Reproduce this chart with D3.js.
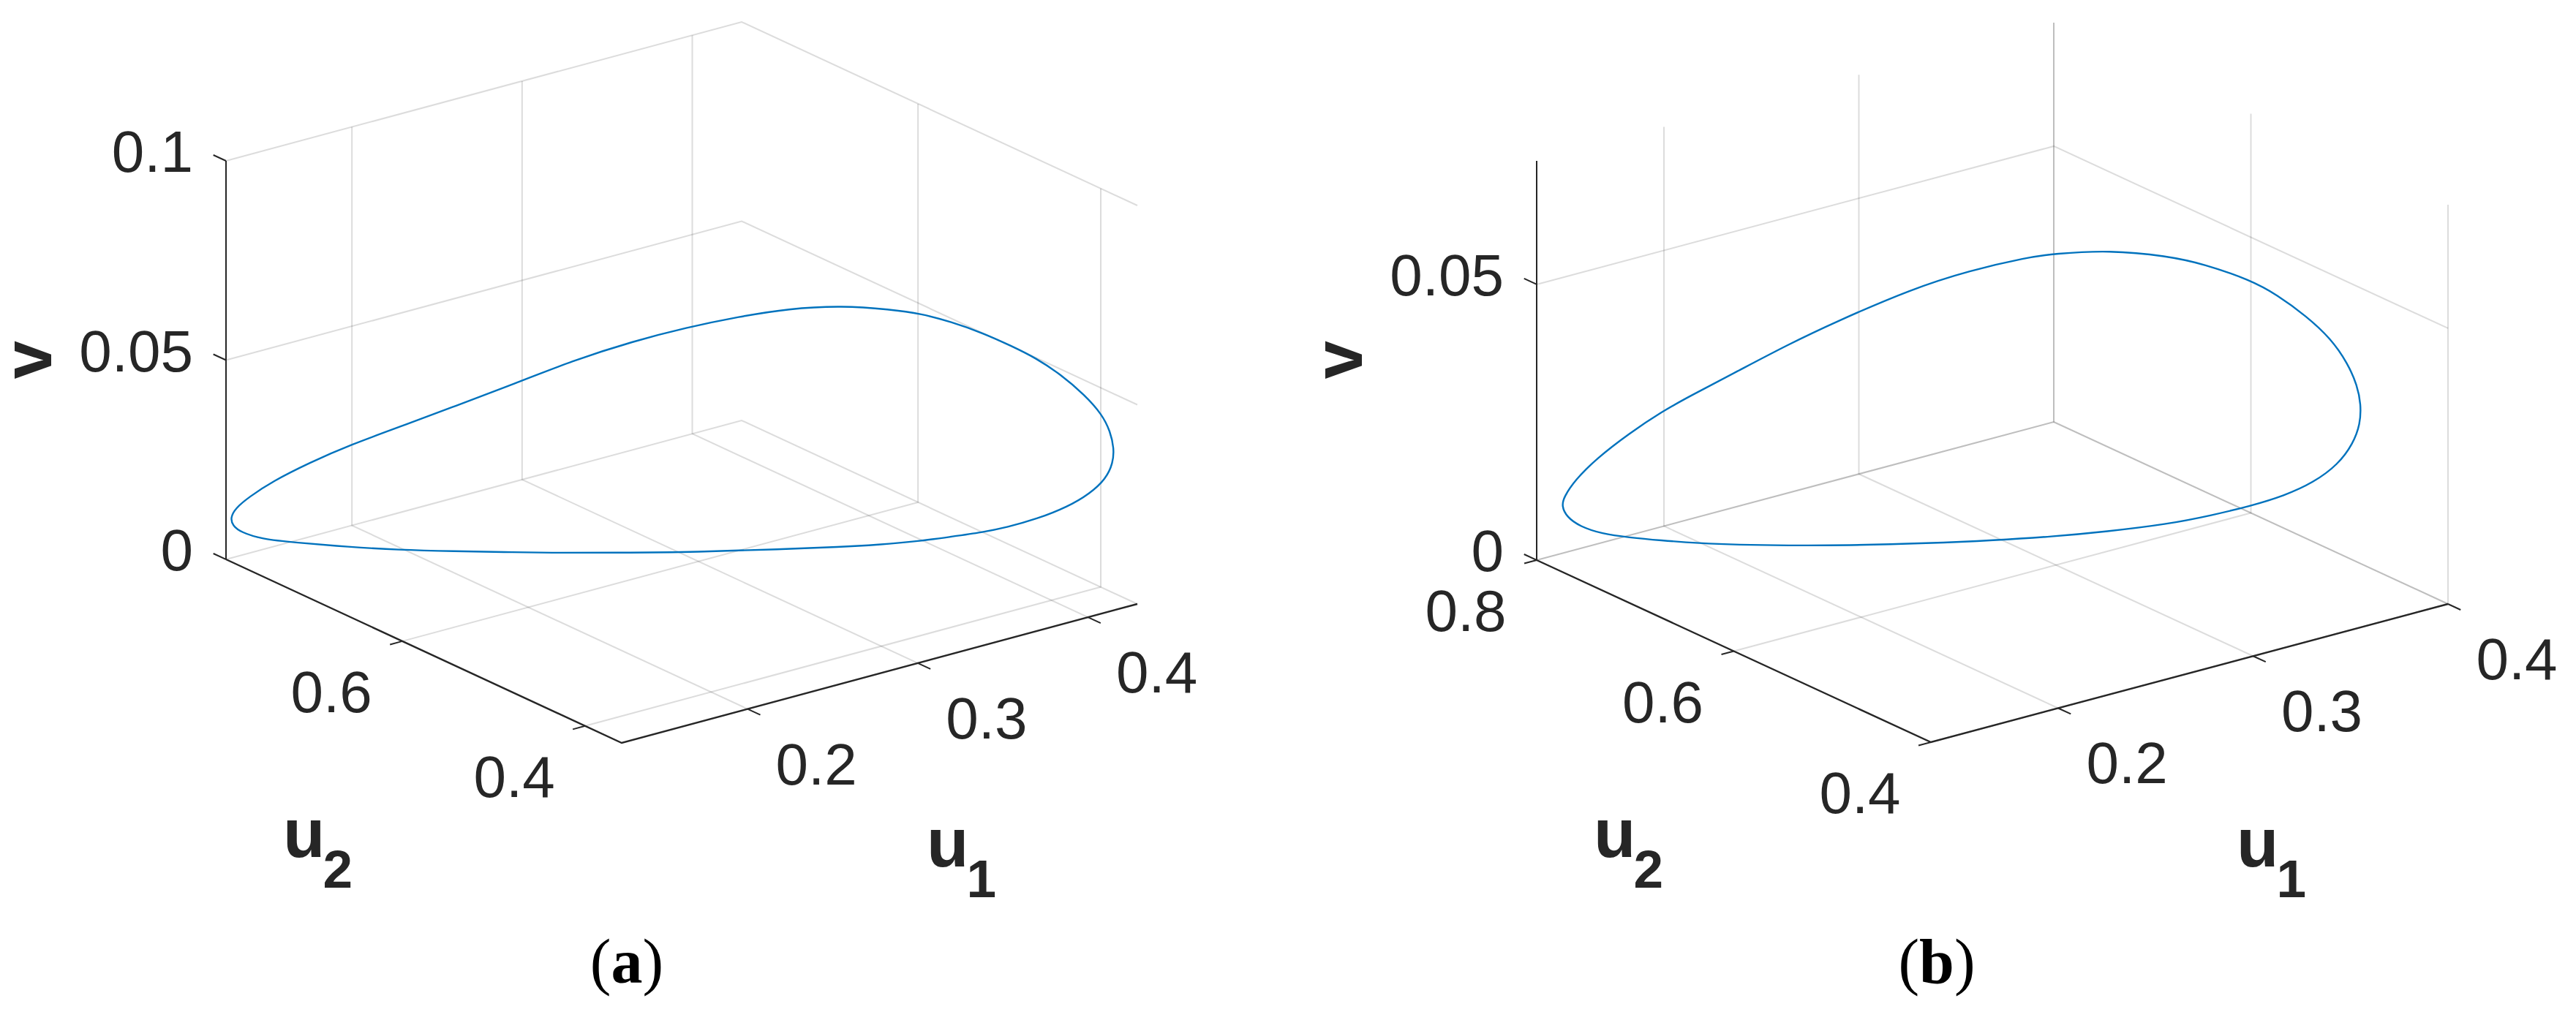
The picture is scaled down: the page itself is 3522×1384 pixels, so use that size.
<!DOCTYPE html><html><head><meta charset="utf-8"><script src="https://d3js.org/d3.v7.min.js"></script>
<style>html,body{margin:0;background:#fff}svg{display:block}</style></head><body><svg id="chart" width="3522" height="1384"></svg><script>
// Panel (a) limit cycle
const aU1=[.1291,.1354,.1427,.1518,.1641,.1801,.2028,.2226,.2427,.2751,.2985,.3199,.3389,.3540,.3698,.3816,.3898,.3974,.4035,.4102,.4159,.4216,.4269,.4272,.4263,.4238,.4213,.4185,.4136,.4077,.3988,.3910,.3841,.3753,.3664,.3544,.3422,.3243,.2979,.2698,.2448,.2291,.2114,.1877,.1689,.1491,.1363,.1278,.1267];
const aU2=[.7940,.8001,.7993,.7898,.7727,.7592,.7376,.7217,.7055,.6889,.6692,.6506,.6277,.6021,.5731,.5423,.5231,.5053,.4823,.4627,.4461,.4302,.4137,.3951,.3846,.3758,.3722,.3749,.3833,.3963,.4142,.4318,.4460,.4640,.4820,.5052,.5226,.5556,.5961,.6342,.6612,.6800,.7008,.7205,.7384,.7607,.7738,.7796,.7870];
const aV=[.010,.011,.013,.017,.022,.026,.031,.035,.039,.044,.048,.051,.054,.057,.059,.060,.060,.059,.058,.056,.054,.051,.047,.044,.041,.038,.035,.031,.027,.023,.019,.016,.014,.012,.010,.008,.007,.005,.003,.002,.002,.002,.002,.003,.004,.005,.006,.008,.009];
// Panel (b) limit cycle
const bU1=[.1421,.1451,.1508,.1597,.1722,.1905,.2046,.2288,.2509,.2716,.3040,.3240,.3404,.3437,.3527,.3596,.3659,.3697,.3719,.3742,.3741,.3737,.3730,.3725,.3739,.3693,.3656,.3602,.3531,.3466,.3387,.3299,.3128,.2991,.2819,.2623,.2380,.2185,.2033,.1877,.1732,.1612,.1511,.1414,.1399];
const bU2=[.7893,.7930,.7932,.7887,.7806,.7835,.7831,.7813,.7759,.7672,.7540,.7350,.7088,.6887,.6501,.6051,.5803,.5405,.5181,.4930,.4676,.4497,.4387,.4339,.4374,.4357,.4433,.4578,.4734,.4947,.5192,.5463,.5741,.6027,.6265,.6546,.6897,.7120,.7309,.7400,.7508,.7589,.7664,.7694,.7798];
const bV=[.010,.011,.0135,.017,.021,.023,.0245,.027,.030,.033,.037,.040,.043,.045,.048,.050,.050,.050,.049,.047,.045,.042,.039,.036,.032,.029,.025,.021,.018,.015,.012,.009,.007,.005,.004,.003,.002,.002,.002,.003,.004,.005,.006,.008,.009];
// Axis ticks
const aTicksU1=[.2,.3,.4], aTicksU2=[.4,.6], aTicksV=[0,.05,.1];
const bTicksU1=[.2,.3,.4], bTicksU2=[.4,.6,.8], bTicksV=[0,.05];
const aDomU1=[.126,.429], aDomU2=[.36,.793], aDomV=[0,.1];
const bDomU1=[.1347,.4], bDomU2=[.4,.8], bDomV=[0,.0724];
const captions=["a","b"];

const svg=d3.select("#chart");
const TEXT="#262626", SANS="'Liberation Sans',Arial,sans-serif", SERIF="'Liberation Serif','Times New Roman',serif";
const lineGen=d3.line();
const loopGen=d3.line().curve(d3.curveBasisClosed);

function panel(cfg){
  const g=svg.append("g");
  const xU1=d3.scaleLinear().domain(cfg.domU1).range([0,cfg.u1Vec[0]]), yU1=d3.scaleLinear().domain(cfg.domU1).range([0,cfg.u1Vec[1]]);
  const xU2=d3.scaleLinear().domain(cfg.domU2).range([0,cfg.u2Vec[0]]), yU2=d3.scaleLinear().domain(cfg.domU2).range([0,cfg.u2Vec[1]]);
  const yV=d3.scaleLinear().domain(cfg.domV).range([0,-cfg.vLen]);
  const P=(a,b,c)=>[cfg.origin[0]+xU1(a)+xU2(b), cfg.origin[1]+yU1(a)+yU2(b)+yV(c)];
  const [a0,a1]=cfg.domU1,[b0,b1]=cfg.domU2,[v0,v1]=cfg.domV;

  const grid=(pts)=>g.append("path").attr("d",lineGen(pts)).attr("fill","none").attr("stroke",TEXT).attr("stroke-opacity",.16).attr("stroke-width",2);
  cfg.ticksU1.forEach(t=>grid([P(t,b0,v0),P(t,b1,v0),P(t,b1,v1)]));
  cfg.ticksU2.forEach(t=>grid([P(a0,t,v0),P(a1,t,v0),P(a1,t,v1)]));
  cfg.ticksV.forEach(t=>grid([P(a0,b1,t),P(a1,b1,t),P(a1,b0,t)]));

  const axis=(pts,w)=>g.append("path").attr("d",lineGen(pts)).attr("fill","none").attr("stroke",TEXT).attr("stroke-width",w);
  axis([P(a0,b1,v0),P(a0,b1,v1)],2);
  axis([P(a0,b1,v0),P(a0,b0,v0),P(a1,b0,v0)],2.4);

  const tu=(b1-b0)*.032, ta=(a1-a0)*.024;
  const label=(txt,x,y,anchor)=>g.append("text").attr("x",x).attr("y",y).attr("text-anchor",anchor).attr("font-family",SANS).attr("font-size",80).attr("fill",TEXT).text(txt);
  cfg.ticksV.forEach((t,i)=>{axis([P(a0,b1,t),P(a0,b1+tu,t)],2);const p=P(a0,b1,t);label(cfg.labV[i],p[0]-45,p[1]+15,"end");});
  cfg.ticksU1.forEach((t,i)=>{axis([P(t,b0,v0),P(t,b0-tu,v0)],2);const p=P(t,b0,v0);label(cfg.labU1[i],p[0]+94,p[1]+103,"middle");});
  cfg.ticksU2.forEach((t,i)=>{axis([P(a0,t,v0),P(a0-ta,t,v0)],2);const p=P(a0,t,v0);label(cfg.labU2[i],p[0]-97,p[1]+97,"middle");});

  const pts=cfg.u1.map((d,i)=>P(d,cfg.u2[i],cfg.v[i]));
  g.append("path").attr("d",loopGen(pts)).attr("fill","none").attr("stroke","#0072BD").attr("stroke-width",2.4);

  const name=(base,sub,x,y)=>{const t=g.append("text").attr("x",x).attr("y",y).attr("font-family",SANS).attr("font-weight",700).attr("font-size",94).attr("fill",TEXT).text(base);
    t.append("tspan").attr("dy",42).attr("dx",-3).attr("font-size",73).text(sub);};
  name("u","2",cfg.labelX2,1172);
  name("u","1",cfg.labelX1,1185);
  g.append("text").attr("transform",`translate(${cfg.labelV},${cfg.labelVy}) rotate(-90)`).attr("text-anchor","middle").attr("font-family",SANS).attr("font-weight",700).attr("font-size",94).attr("fill",TEXT).text("v");

  const c=g.append("text").attr("x",cfg.capX).attr("y",1344).attr("text-anchor","middle").attr("font-family",SERIF).attr("font-size",86).attr("fill","#000");
  c.append("tspan").text("(");c.append("tspan").attr("font-weight",700).text(cfg.caption);c.append("tspan").text(")");
}

panel({origin:[850,1016],u1Vec:[705,-190],u2Vec:[-541,-251],vLen:545,domU1:aDomU1,domU2:aDomU2,domV:aDomV,
  ticksU1:aTicksU1,ticksU2:aTicksU2,ticksV:aTicksV,labU1:["0.2","0.3","0.4"],labU2:["0.4","0.6"],labV:["0","0.05","0.1"],
  u1:aU1,u2:aU2,v:aV,labelX1:1267,labelX2:387,labelV:70,labelVy:492,capX:857,caption:captions[0]});
panel({origin:[2640,1015],u1Vec:[707,-189],u2Vec:[-539,-249],vLen:546,domU1:bDomU1,domU2:bDomU2,domV:bDomV,
  ticksU1:bTicksU1,ticksU2:bTicksU2,ticksV:bTicksV,labU1:["0.2","0.3","0.4"],labU2:["0.4","0.6","0.8"],labV:["0","0.05"],
  u1:bU1,u2:bU2,v:bV,labelX1:3058,labelX2:2179,labelV:1862,labelVy:492,capX:2648,caption:captions[1]});
</script></body></html>
